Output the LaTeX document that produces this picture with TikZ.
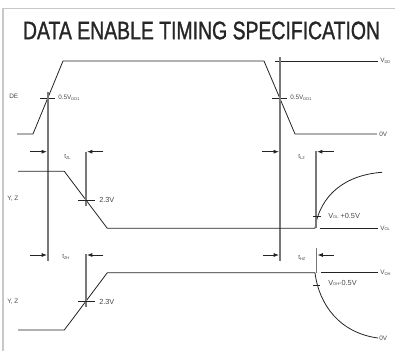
\documentclass[tikz,border=0pt]{standalone}
\usepackage{fontspec}
\setmainfont{Liberation Sans}
\newfontfamily\titlefont[FakeBold=1.4]{Liberation Sans}
\usepackage{graphicx}
\usetikzlibrary{arrows.meta}
\definecolor{framegray}{RGB}{200,200,200}
\definecolor{guidegray}{RGB}{120,120,120}
\definecolor{wavegray}{RGB}{35,35,35}
\definecolor{txtgray}{RGB}{70,70,70}
\newcommand{\lowsub}[1]{\raisebox{-0.5pt}{\fontsize{3}{3}\selectfont #1}}

\begin{document}
\begin{tikzpicture}[x=0.75pt,y=0.75pt,yscale=-1,xscale=1,
	wave/.style={color=wavegray,line width=0.6pt},
	guide/.style={color=guidegray,line width=1pt},
	dimarrow/.style={color=wavegray,line width=0.6pt,-{Latex[length=4pt,width=3pt]}},
	lbl/.style={anchor=west,inner sep=0.75pt,text=txtgray,font=\fontsize{4.8}{5}\selectfont},
	biglbl/.style={lbl,font=\fontsize{5.5}{6}\selectfont}]
	\path[use as bounding box] (0,0) rectangle (395,351);

	%Frame
	\draw [color=framegray,line width=1.1pt] (395,8.5) -- (3,8.5) -- (3,351) ;

	% Title
	\node (title) [text=black!85] at (201.5,30.5) {\resizebox{267.75pt}{13.2pt}{\titlefont DATA ENABLE TIMING SPECIFICATION}};

	%Straight Lines: DE
	\draw [wave] (17,134) -- (33,134) -- (63,61) -- (264,61) -- (295,134) -- (377,134) ;
	\draw [wave] (275,61) -- (378,61) ;
	\draw [wave] (40,98) -- (55,98) ;
	\draw [wave] (272,98) -- (287,98) ;
	%Straight Lines: reference verticals
	\draw [guide] (48,92) -- (48,261) ;
	\draw [guide] (280,57) -- (280,261) ;

	%Straight Lines: Y, Z (tZL, tLZ)
	\draw [wave] (18,171.3) -- (64.3,171.3) -- (107.3,228.3) -- (315,228.3) .. controls (320,195) and (345,175) .. (382,172.3) ;
	\draw [wave] (320,228.3) -- (378,228.3) ;
	\draw [guide] (86,151.7) -- (86,206) ;
	\draw [wave] (78,200) -- (95,200) ;
	\draw [guide] (316,150.7) -- (316,228.3) ;
	\draw [wave] (313,216) -- (321,216) ;
	\draw [dimarrow] (30,151.7) -- (47,151.7) ;
	\draw [dimarrow] (103,151.7) -- (87,151.7) ;
	\draw [dimarrow] (262,151.7) -- (279,151.7) ;
	\draw [dimarrow] (334,151.7) -- (317,151.7) ;

	%Straight Lines: Y, Z (tZH, tHZ)
	\draw [wave] (18,330) -- (64.3,330) -- (107.3,272.7) -- (315,272.7) .. controls (319,305) and (340,333) .. (378,338) ;
	\draw [wave] (321,272.7) -- (378,272.7) ;
	\draw [guide] (86,254) -- (86,307) ;
	\draw [wave] (78,301.7) -- (95,301.7) ;
	\draw [guide] (316.7,248) -- (316.7,272.7) ;
	\draw [wave] (313,285) -- (320,285) ;
	\draw [dimarrow] (30,255) -- (47,255) ;
	\draw [dimarrow] (103,255) -- (87,255) ;
	\draw [dimarrow] (263,255) -- (279,255) ;
	\draw [dimarrow] (334,255) -- (317.5,255) ;

	% Text Node
	\node (de) at (8,96) [lbl] {DE};
	% Text Node
	\node (halfa) at (57,98) [lbl] {0.5V\lowsub{DD1}};
	% Text Node
	\node (halfb) at (289,98) [lbl] {0.5V\lowsub{DD1}};
	% Text Node
	\node (vdd) at (379,61) [lbl] {V\lowsub{DD}};
	% Text Node
	\node (zeroa) at (378,134) [lbl] {0V};
	% Text Node
	\node (tzl) at (63,156.7) [lbl] {t\lowsub{ZL}};
	% Text Node
	\node (tlz) at (297,157) [lbl] {t\lowsub{LZ}};
	% Text Node
	\node (vlowa) at (98,200) [biglbl] {2.3V};
	% Text Node
	\node (yza) at (6,199) [lbl] {Y, Z};
	% Text Node
	\node (volp) at (327,216) [biglbl] {V\lowsub{OL} +0.5V};
	% Text Node
	\node (vol) at (379,228.3) [lbl] {V\lowsub{OL}};
	% Text Node
	\node (tzh) at (61,256.7) [lbl] {t\lowsub{ZH}};
	% Text Node
	\node (thz) at (297,258) [lbl] {t\lowsub{HZ}};
	% Text Node
	\node (vlowb) at (98,301.7) [biglbl] {2.3V};
	% Text Node
	\node (yzb) at (6,301.7) [lbl] {Y, Z};
	% Text Node
	\node (vohm) at (327,283) [biglbl] {V\lowsub{OH}-0.5V};
	% Text Node
	\node (voh) at (379,272.7) [lbl] {V\lowsub{OH}};
	% Text Node
	\node (zerob) at (378,338) [lbl] {0V};

\end{tikzpicture}
\end{document}
